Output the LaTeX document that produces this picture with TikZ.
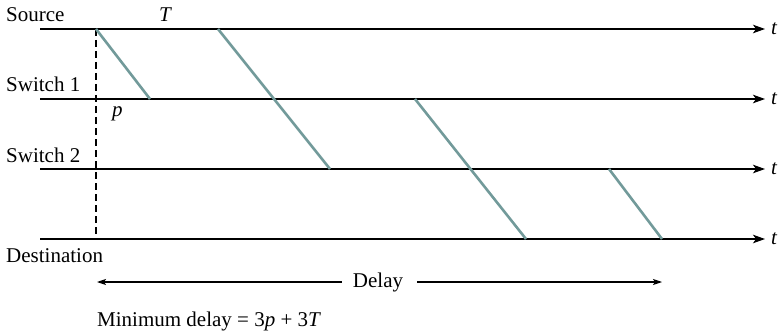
\documentclass[tikz,border=0pt]{standalone}
\usepackage{fontspec}
\setmainfont{Liberation Serif}
\usetikzlibrary{arrows.meta}
\definecolor{pktcol}{RGB}{114,154,154}
\begin{document}
\begin{tikzpicture}[x=1pt,y=-1pt,
  font=\fontsize{21}{25}\selectfont,
  axis/.style={line width=1.2pt,-{Stealth[length=12pt,width=8.5pt,inset=3pt]}},
  pkt/.style={line width=2.6pt,draw=pktcol},
  delayarrow/.style={line width=1.1pt,-{Stealth[length=9pt,width=6pt,inset=2pt]}},
  lbl/.style={inner sep=0pt,anchor=base west},
  tlbl/.style={inner sep=0pt,anchor=west,font=\fontsize{21}{25}\selectfont\itshape}]
\useasboundingbox (0,0) rectangle (778,334);
% time axes
\coordinate (s0) at (40,29);  \coordinate (s1) at (765,29);
\coordinate (a0) at (40,99);  \coordinate (a1) at (765,99);
\coordinate (b0) at (40,169); \coordinate (b1) at (765,169);
\coordinate (d0) at (40,239); \coordinate (d1) at (765,239);
\draw[axis] (s0) -- (s1);
\draw[axis] (a0) -- (a1);
\draw[axis] (b0) -- (b1);
\draw[axis] (d0) -- (d1);
\node[tlbl] (ts) at (771,29) {t};
\node[tlbl] (ta) at (771,99) {t};
\node[tlbl] (tb) at (771,169) {t};
\node[tlbl] (td) at (771,239) {t};
% labels
\node[lbl] (src) at (6,22) {Source};
\node[lbl] (sw1) at (6,92) {Switch 1};
\node[lbl] (sw2) at (6,162) {Switch 2};
\node[lbl] (dst) at (6,262) {Destination};
\node[lbl] (T) at (159,22) {\textit{T}};
\node[lbl] (p) at (112,117) {\textit{p}};
% dashed start marker
\coordinate (ds) at (96,29);
\coordinate (de) at (96,239);
\draw[line width=1.1pt,dash pattern=on 7pt off 4pt] (ds) -- (de);
% packet transmissions
\coordinate (p1a) at (96,29);  \coordinate (p1b) at (150,99);
\coordinate (p2a) at (218,29); \coordinate (p2b) at (330,169);
\coordinate (p3a) at (415,99); \coordinate (p3b) at (526,239);
\coordinate (p4a) at (609,169); \coordinate (p4b) at (662,239);
\draw[pkt] (p1a) -- (p1b);
\draw[pkt] (p2a) -- (p2b);
\draw[pkt] (p3a) -- (p3b);
\draw[pkt] (p4a) -- (p4b);
% delay
\node[inner sep=0pt] (delay) at (378,282) {Delay};
\coordinate (dl) at (97,282);
\coordinate (dr) at (662,282);
\draw[delayarrow] (delay.west) ++(-11,0) -- (dl);
\draw[delayarrow] (delay.east) ++(14,0) -- (dr);
\node[lbl] (mind) at (97,326) {Minimum delay = 3\textit{p} + 3\textit{T}};
\end{tikzpicture}
\end{document}
